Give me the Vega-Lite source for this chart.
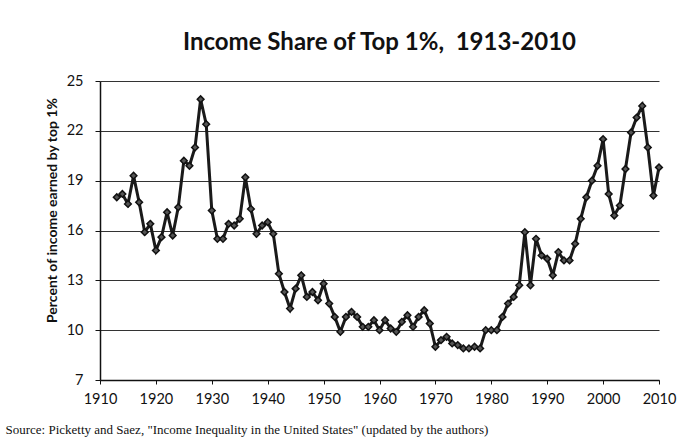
{
  "$schema": "https://vega.github.io/schema/vega-lite/v6.json",
  "autosize": "none",
  "width": 559,
  "height": 299,
  "padding": {"left": 100, "top": 81, "right": 26, "bottom": 67},
  "background": "white",
  "title": {
    "text": "Income Share of Top 1%,\u00a0 1913-2010",
    "font": "Lato",
    "fontSize": 24,
    "fontWeight": "bold",
    "color": "#111",
    "anchor": "middle",
    "offset": 18
  },
  "data": {
    "values": [
      {"year": 1913, "share": 18.0}, {"year": 1914, "share": 18.2}, {"year": 1915, "share": 17.6},
      {"year": 1916, "share": 19.3}, {"year": 1917, "share": 17.7}, {"year": 1918, "share": 15.9},
      {"year": 1919, "share": 16.4}, {"year": 1920, "share": 14.8}, {"year": 1921, "share": 15.6},
      {"year": 1922, "share": 17.1}, {"year": 1923, "share": 15.7}, {"year": 1924, "share": 17.4},
      {"year": 1925, "share": 20.2}, {"year": 1926, "share": 19.9}, {"year": 1927, "share": 21.0},
      {"year": 1928, "share": 23.9}, {"year": 1929, "share": 22.4}, {"year": 1930, "share": 17.2},
      {"year": 1931, "share": 15.5}, {"year": 1932, "share": 15.5}, {"year": 1933, "share": 16.4},
      {"year": 1934, "share": 16.3}, {"year": 1935, "share": 16.7}, {"year": 1936, "share": 19.2},
      {"year": 1937, "share": 17.3}, {"year": 1938, "share": 15.8}, {"year": 1939, "share": 16.3},
      {"year": 1940, "share": 16.5}, {"year": 1941, "share": 15.8}, {"year": 1942, "share": 13.4},
      {"year": 1943, "share": 12.3}, {"year": 1944, "share": 11.3}, {"year": 1945, "share": 12.5},
      {"year": 1946, "share": 13.3}, {"year": 1947, "share": 12.0}, {"year": 1948, "share": 12.3},
      {"year": 1949, "share": 11.8}, {"year": 1950, "share": 12.8}, {"year": 1951, "share": 11.6},
      {"year": 1952, "share": 10.8}, {"year": 1953, "share": 9.9}, {"year": 1954, "share": 10.8},
      {"year": 1955, "share": 11.1}, {"year": 1956, "share": 10.8}, {"year": 1957, "share": 10.2},
      {"year": 1958, "share": 10.2}, {"year": 1959, "share": 10.6}, {"year": 1960, "share": 10.0},
      {"year": 1961, "share": 10.6}, {"year": 1962, "share": 10.1}, {"year": 1963, "share": 9.9},
      {"year": 1964, "share": 10.5}, {"year": 1965, "share": 10.9}, {"year": 1966, "share": 10.2},
      {"year": 1967, "share": 10.8}, {"year": 1968, "share": 11.2}, {"year": 1969, "share": 10.4},
      {"year": 1970, "share": 9.0}, {"year": 1971, "share": 9.4}, {"year": 1972, "share": 9.6},
      {"year": 1973, "share": 9.2}, {"year": 1974, "share": 9.1}, {"year": 1975, "share": 8.9},
      {"year": 1976, "share": 8.9}, {"year": 1977, "share": 9.0}, {"year": 1978, "share": 8.9},
      {"year": 1979, "share": 10.0}, {"year": 1980, "share": 10.0}, {"year": 1981, "share": 10.0},
      {"year": 1982, "share": 10.8}, {"year": 1983, "share": 11.6}, {"year": 1984, "share": 12.0},
      {"year": 1985, "share": 12.7}, {"year": 1986, "share": 15.9}, {"year": 1987, "share": 12.7},
      {"year": 1988, "share": 15.5}, {"year": 1989, "share": 14.5}, {"year": 1990, "share": 14.3},
      {"year": 1991, "share": 13.3}, {"year": 1992, "share": 14.7}, {"year": 1993, "share": 14.2},
      {"year": 1994, "share": 14.2}, {"year": 1995, "share": 15.2}, {"year": 1996, "share": 16.7},
      {"year": 1997, "share": 18.0}, {"year": 1998, "share": 19.0}, {"year": 1999, "share": 19.9},
      {"year": 2000, "share": 21.5}, {"year": 2001, "share": 18.2}, {"year": 2002, "share": 16.9},
      {"year": 2003, "share": 17.5}, {"year": 2004, "share": 19.7}, {"year": 2005, "share": 21.9},
      {"year": 2006, "share": 22.8}, {"year": 2007, "share": 23.5}, {"year": 2008, "share": 21.0},
      {"year": 2009, "share": 18.1}, {"year": 2010, "share": 19.8}
    ]
  },
  "mark": {
    "type": "line",
    "color": "#1a1a1a",
    "strokeWidth": 3,
    "point": {"shape": "diamond", "filled": true, "size": 45, "fill": "#555", "stroke": "#111", "strokeWidth": 1.5}
  },
  "encoding": {
    "x": {
      "field": "year",
      "type": "quantitative",
      "scale": {"domain": [1910, 2010], "nice": false, "zero": false},
      "axis": {
        "values": [1910, 1920, 1930, 1940, 1950, 1960, 1970, 1980, 1990, 2000, 2010],
        "format": "d",
        "grid": false,
        "labelFlush": false,
        "labelOverlap": false,
        "title": "Source: Picketty and Saez, \"Income Inequality in the United States\" (updated by the authors)",
        "titleFont": "Liberation Serif",
        "titleFontSize": 13,
        "titleFontWeight": "normal",
        "titleColor": "#111",
        "titleAnchor": "start",
        "titleAlign": "left",
        "titleBaseline": "alphabetic",
        "titleX": -95,
        "titleY": 53,
        "labelFont": "Lato",
        "labelFontSize": 14.5,
        "labelColor": "#111",
        "labelPadding": 8,
        "domainColor": "#111",
        "domainWidth": 1.5,
        "tickColor": "#111",
        "tickSize": 4
      }
    },
    "y": {
      "field": "share",
      "type": "quantitative",
      "scale": {"domain": [7, 25], "nice": false, "zero": false},
      "axis": {
        "values": [7, 10, 13, 16, 19, 22, 25],
        "title": "Percent of income earned by top 1%",
        "titleFont": "Lato",
        "titleFontSize": 14,
        "titleFontWeight": "bold",
        "titleColor": "#111",
        "titleBaseline": "middle",
        "titleX": -48,
        "titleY": 129,
        "labelFont": "Lato",
        "labelFontSize": 14.5,
        "labelColor": "#111",
        "labelPadding": 12,
        "grid": true,
        "gridColor": "#333",
        "gridWidth": 1.2,
        "domainColor": "#111",
        "domainWidth": 1.5,
        "tickColor": "#111",
        "tickSize": 5
      }
    }
  },
  "config": {
    "view": {"stroke": null}
  }
}
